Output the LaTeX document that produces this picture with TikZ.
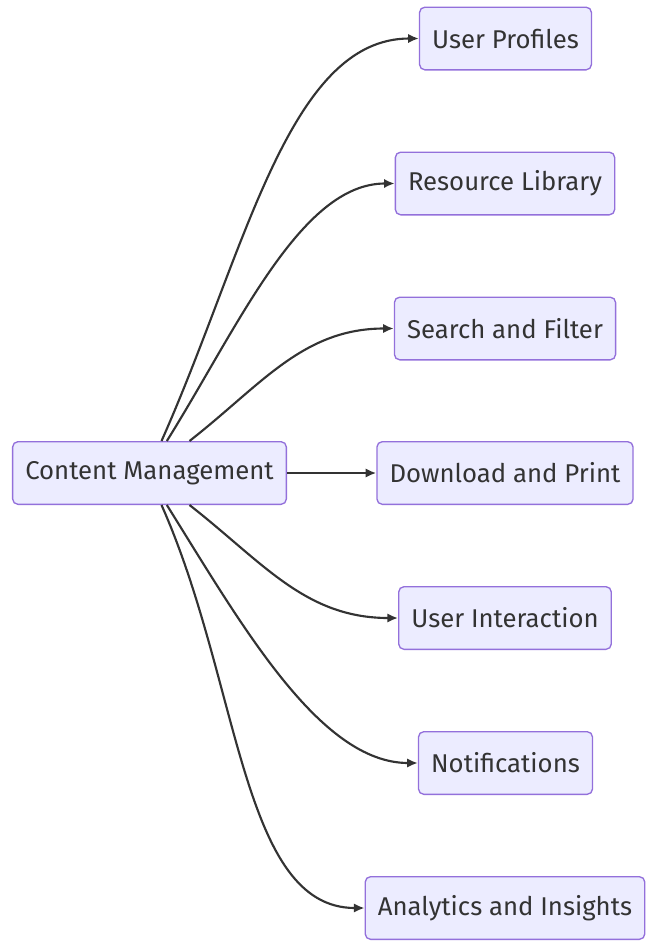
\documentclass[tikz,border=0pt]{standalone}
\usepackage{fontspec}
\setmainfont{Fira Sans}
\definecolor{MMFill}{HTML}{ECECFF}
\definecolor{MMLine}{HTML}{9370DB}
\definecolor{MMEdge}{HTML}{333333}
\usetikzlibrary{positioning,arrows.meta}

\tikzset{
  box/.style={draw=MMLine, fill=MMFill, line width=1pt, rounded corners=4pt,
    minimum height=47pt, inner xsep=9.5pt, text=MMEdge,
    font=\fontsize{19.3}{23}\selectfont},
  edge/.style={draw=MMEdge, line width=1.6pt, -{Latex[length=8pt,width=7pt]}}
}

\begin{document}
\begin{tikzpicture}[x=0.75pt, y=-0.75pt]
    \useasboundingbox (0,0) rectangle (656,947);
    % centre node and its targets
    \node[box] (cm) at (149.5,473) {Content Management};
    \node[box] (up) at (505.5,38.5) {User Profiles};
    \node[box] (rl) at (505,183.5) {Resource Library};
    \node[box] (sf) at (505,328.5) {Search and Filter};
    \node[box] (dp) at (505,473) {Download and Print};
    \node[box] (ui) at (505,618) {User Interaction};
    \node[box] (nt) at (505.5,763) {Notifications};
    \node[box] (ai) at (505,908) {Analytics and Insights};
    % connectors
    \draw[edge] ([xshift=9pt]cm.north) to[out=66, in=180, out looseness=1.1, in looseness=0.7] (up.west);
    \draw[edge] ([xshift=13pt]cm.north) to[out=58, in=180, out looseness=1.0, in looseness=0.7] (rl.west);
    \draw[edge] ([xshift=30pt]cm.north) to[out=38, in=180] (sf.west);
    \draw[edge] (cm.east) -- (dp.west);
    \draw[edge] ([xshift=30pt]cm.south) to[out=-38, in=180] (ui.west);
    \draw[edge] ([xshift=13pt]cm.south) to[out=-58, in=180, out looseness=1.0, in looseness=0.7] (nt.west);
    \draw[edge] ([xshift=9pt]cm.south) to[out=-66, in=180, out looseness=1.1, in looseness=0.7] (ai.west);
\end{tikzpicture}
\end{document}
